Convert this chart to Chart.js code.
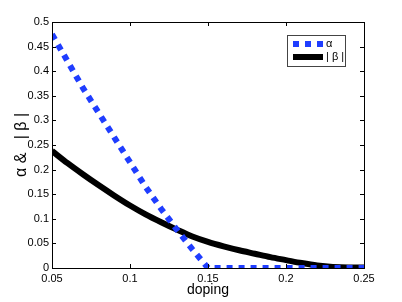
<!DOCTYPE html>
<html>
<head>
<meta charset="utf-8">
<script src="https://cdn.jsdelivr.net/npm/chart.js@4/dist/chart.umd.min.js"></script>
<style>
    html, body { margin: 0; padding: 0; background: #fff; }
    canvas { display: block; }
</style>
</head>
<body>
<canvas id="grafico" width="402" height="302"></canvas>
<script>
// Datos
const doping = [0.05, 0.06, 0.07, 0.08, 0.09, 0.10, 0.11, 0.12, 0.13, 0.14, 0.15,
                0.16, 0.17, 0.18, 0.19, 0.20, 0.21, 0.22, 0.23, 0.24, 0.25];
const alpha = [0.475, 0.42, 0.365, 0.315, 0.265, 0.215, 0.165, 0.12, 0.078, 0.038, 0.0,
               0, 0, 0, 0, 0, 0, 0, 0, 0, 0];
const beta = [0.238, 0.213, 0.19, 0.168, 0.147, 0.127, 0.109, 0.093, 0.078, 0.064, 0.053,
              0.044, 0.036, 0.029, 0.022, 0.016, 0.010, 0.005, 0.002, 0.001, 0.001];
const xTicks = [0.05, 0.1, 0.15, 0.2, 0.25];
const yTicks = [0, 0.05, 0.1, 0.15, 0.2, 0.25, 0.3, 0.35, 0.4, 0.45, 0.5];

const FUENTE = '"Liberation Sans", Arial, Helvetica, sans-serif';
const NB = '\u00a0';

function puntos(serie) {
    return doping.map((x, i) => ({ x: x, y: serie[i] }));
}

// Caja, ticks interiores y leyenda estilo MATLAB
const marcoPlugin = {
    id: 'marco',
    afterDatasetsDraw(chart) {
        const ctx = chart.ctx;
        const area = chart.chartArea;
        const sx = chart.scales.x;
        const sy = chart.scales.y;
        ctx.save();
        ctx.strokeStyle = '#000';
        ctx.lineWidth = 1;
        ctx.beginPath();
        xTicks.forEach(v => {
            const px = Math.round(sx.getPixelForValue(v)) + 0.5;
            ctx.moveTo(px, area.bottom);
            ctx.lineTo(px, area.bottom - 4);
            ctx.moveTo(px, area.top);
            ctx.lineTo(px, area.top + 4);
        });
        yTicks.forEach(v => {
            const py = Math.round(sy.getPixelForValue(v)) + 0.5;
            ctx.moveTo(area.left, py);
            ctx.lineTo(area.left + 4, py);
            ctx.moveTo(area.right, py);
            ctx.lineTo(area.right - 4, py);
        });
        ctx.stroke();
        ctx.strokeRect(Math.round(area.left) + 0.5, Math.round(area.top) + 0.5,
            Math.round(area.right - area.left), Math.round(area.bottom - area.top));

        // Leyenda
        const lx = 287, ly = 35, lw = 58, lh = 31;
        ctx.fillStyle = '#fff';
        ctx.fillRect(lx, ly, lw, lh);
        ctx.strokeStyle = '#444';
        ctx.strokeRect(lx + 0.5, ly + 0.5, lw, lh);
        chart.data.datasets.forEach((ds, i) => {
            const y = ly + 9 + i * 13;
            ctx.beginPath();
            ctx.strokeStyle = ds.borderColor;
            ctx.lineWidth = ds.borderWidth;
            ctx.setLineDash(ds.borderDash || []);
            ctx.moveTo(293, y);
            ctx.lineTo(323, y);
            ctx.stroke();
            ctx.setLineDash([]);
            ctx.fillStyle = '#000';
            ctx.font = '11px ' + FUENTE;
            ctx.textBaseline = 'middle';
            ctx.textAlign = 'left';
            ctx.fillText(ds.label, 326, y);
        });
        ctx.restore();
    }
};

new Chart(document.getElementById('grafico'), {
    type: 'line',
    data: {
        datasets: [
            {
                label: 'α',
                data: puntos(alpha),
                borderColor: '#1f3dff',
                borderWidth: 6,
                borderDash: [6, 6],
                borderCapStyle: 'butt',
                pointRadius: 0,
                tension: 0
            },
            {
                label: '|' + NB + 'β' + NB + '|',
                data: puntos(beta),
                borderColor: '#000',
                borderWidth: 6,
                pointRadius: 0,
                cubicInterpolationMode: 'monotone'
            }
        ]
    },
    options: {
        responsive: false,
        animation: false,
        layout: { padding: { left: 0, right: 38, top: 22, bottom: 0 } },
        plugins: {
            legend: { display: false },
            tooltip: { enabled: false }
        },
        scales: {
            x: {
                type: 'linear',
                min: 0.05,
                max: 0.25,
                afterFit: s => { s.height = 34; },
                afterBuildTicks: s => { s.ticks = xTicks.map(v => ({ value: v })); },
                grid: { display: false, drawTicks: false },
                border: { display: false },
                ticks: {
                    padding: 4,
                    color: '#000',
                    font: { family: FUENTE, size: 11 },
                    maxRotation: 0,
                    callback: v => String(+v.toFixed(2))
                },
                title: {
                    display: true,
                    text: 'doping',
                    color: '#000',
                    font: { family: FUENTE, size: 14 },
                    padding: { top: 0, bottom: 3 }
                }
            },
            y: {
                min: 0,
                max: 0.5,
                afterFit: s => { s.width = 52; },
                afterBuildTicks: s => { s.ticks = yTicks.map(v => ({ value: v })); },
                grid: { display: false, drawTicks: false },
                border: { display: false },
                ticks: {
                    padding: 3,
                    color: '#000',
                    font: { family: FUENTE, size: 11 },
                    callback: v => String(+v.toFixed(2))
                },
                title: {
                    display: true,
                    text: 'α' + NB + '&' + NB + NB + NB + '|' + NB + 'β' + NB + '|',
                    color: '#000',
                    font: { family: FUENTE, size: 16 },
                    padding: { top: 12, bottom: 0 }
                }
            }
        }
    },
    plugins: [marcoPlugin]
});
</script>
</body>
</html>
